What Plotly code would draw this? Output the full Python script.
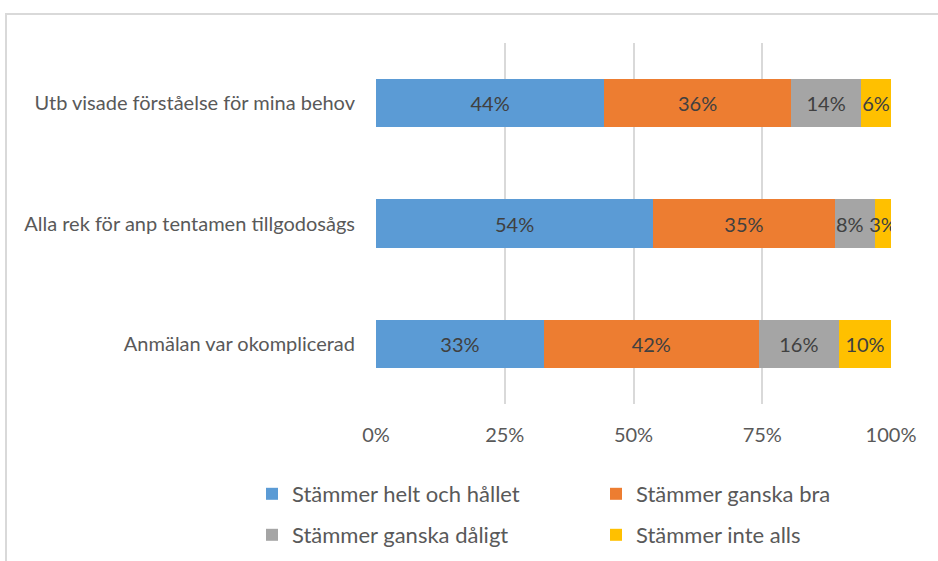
import plotly.graph_objects as go

# Survey statements, listed top to bottom
categories = [
    "Utb visade förståelse för mina behov",
    "Alla rek för anp tentamen tillgodosågs",
    "Anmälan var okomplicerad",
]

# Response shares (percent) per statement
helt_och_hallet = [44.3, 53.8, 32.6]
ganska_bra = [36.3, 35.3, 41.7]
ganska_daligt = [13.6, 7.8, 15.6]
inte_alls = [5.8, 3.1, 10.1]

series_names = [
    "Stämmer helt och hållet",
    "Stämmer ganska bra",
    "Stämmer ganska dåligt",
    "Stämmer inte alls",
]
series_values = [helt_och_hallet, ganska_bra, ganska_daligt, inte_alls]
series_colors = ["#5B9BD5", "#ED7D31", "#A5A5A5", "#FFC000"]
legend_slots = ["legend", "legend", "legend2", "legend2"]

x_ticks = [0, 25, 50, 75, 100]
x_tick_labels = ["0%", "25%", "50%", "75%", "100%"]

FONT = "Lato"
LABEL_COLOR = "#404040"
W, H = 938, 561
ML, MR, MT, MB = 376, 47, 43, 157
PW, PH = W - ML - MR, H - MT - MB


def px_x(px):
    return (px - ML) / PW


def px_y(py):
    return (H - MB - py) / PH


# Labels that would collide with a neighbour are nudged to the left edge of
# their segment instead of being centred.
narrow_cat = categories[1]
narrow_series = 2

fig = go.Figure()
annotations = []
for s, (name, vals, color, lg) in enumerate(
        zip(series_names, series_values, series_colors, legend_slots)):
    positions = []
    for i, (cat, v) in enumerate(zip(categories, vals)):
        if s == narrow_series and cat == narrow_cat:
            positions.append("none")
            start = sum(series_values[k][i] for k in range(s))
            annotations.append(dict(
                x=start, y=cat, xref="x", yref="y",
                text=f"{v:.0f}%", showarrow=False,
                xanchor="left", xshift=-1,
                font=dict(family=FONT, size=20, color=LABEL_COLOR),
            ))
        else:
            positions.append("inside")
    fig.add_trace(go.Bar(
        name=name,
        y=categories,
        x=vals,
        orientation="h",
        width=0.4,
        marker=dict(color=color, line=dict(width=0)),
        texttemplate="%{x:.0f}%",
        textposition=positions,
        insidetextanchor="middle",
        textangle=0,
        constraintext="none",
        textfont=dict(family=FONT, size=20, color=LABEL_COLOR),
        legend=lg,
        hoverinfo="skip",
    ))

legend_common = dict(
    orientation="h",
    xanchor="left",
    yanchor="middle",
    traceorder="normal",
    font=dict(family=FONT, size=22, color="#595959"),
    entrywidth=299,
    entrywidthmode="pixels",
    bgcolor="rgba(0,0,0,0)",
)

fig.update_layout(
    width=W,
    height=H,
    margin=dict(l=ML, r=MR, t=MT, b=MB, autoexpand=False),
    paper_bgcolor="white",
    plot_bgcolor="white",
    barmode="stack",
    showlegend=True,
    legend=dict(x=px_x(252), y=px_y(494), **legend_common),
    legend2=dict(x=px_x(252), y=px_y(535), **legend_common),
    annotations=annotations,
    xaxis=dict(
        range=[0, 100],
        tickvals=x_ticks,
        ticktext=x_tick_labels,
        showgrid=True,
        gridcolor="#D9D9D9",
        gridwidth=1.5,
        zeroline=False,
        showline=False,
        ticks="",
        ticklabelstandoff=17,
        tickfont=dict(family=FONT, size=20, color="#595959"),
        fixedrange=True,
    ),
    yaxis=dict(
        categoryorder="array",
        categoryarray=categories[::-1],
        showgrid=False,
        zeroline=False,
        showline=False,
        ticks="",
        ticklabelstandoff=20,
        tickfont=dict(family=FONT, size=20, color="#595959"),
        fixedrange=True,
    ),
    shapes=[dict(
        type="rect",
        xref="paper", yref="paper",
        x0=px_x(6), x1=px_x(960),
        y0=px_y(14), y1=px_y(590),
        line=dict(color="#D9D9D9", width=2),
        fillcolor="rgba(0,0,0,0)",
        layer="below",
    )],
)

fig.write_html("out.html")
